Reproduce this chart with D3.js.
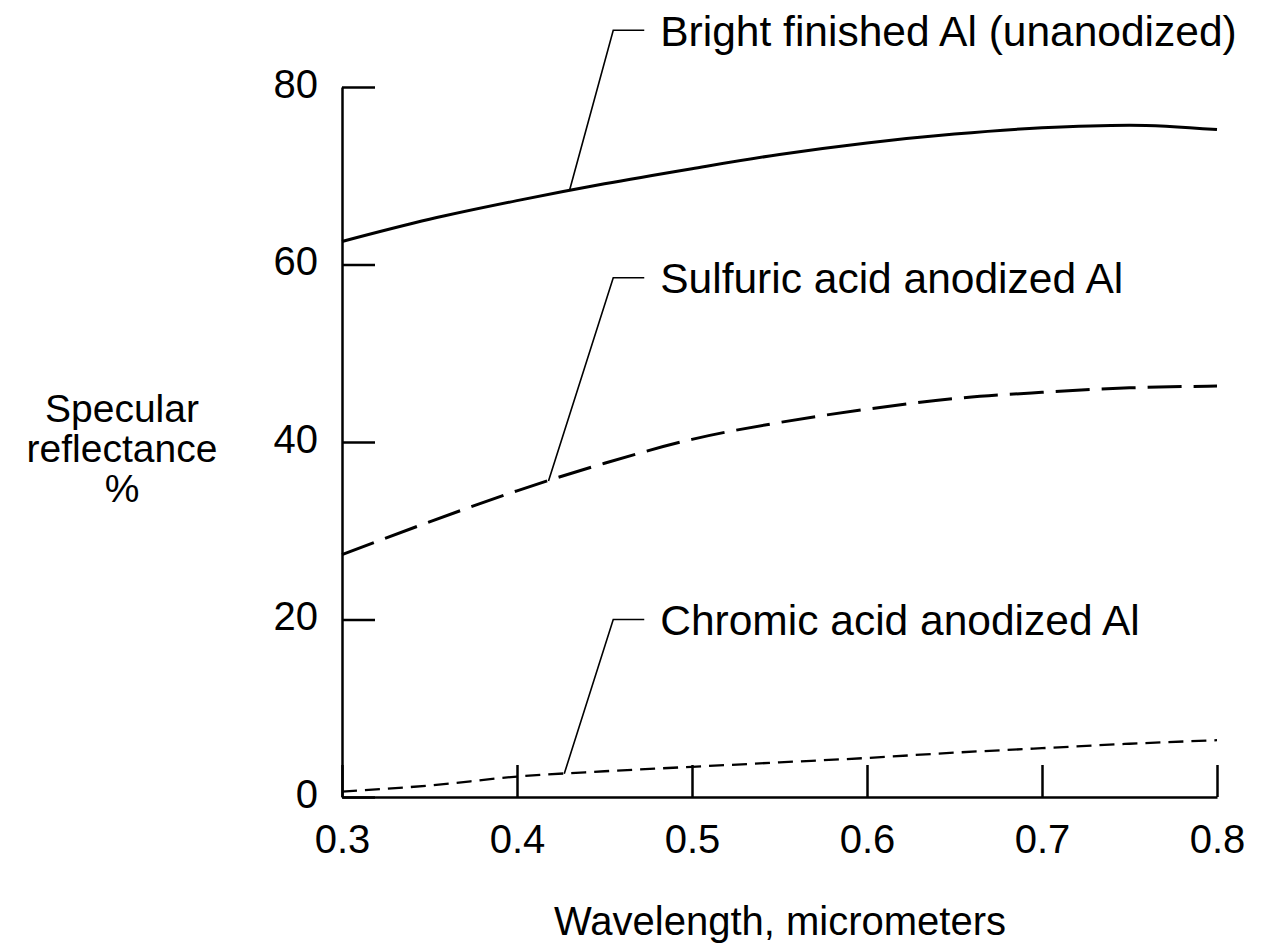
<!DOCTYPE html>
<html>
<head>
<meta charset="utf-8">
<script src="https://d3js.org/d3.v7.min.js"></script>
<style>
	body { margin: 0; background: #fff; }
	svg text { font-family: "Liberation Sans", Arial, Helvetica, sans-serif; fill: #000; }
</style>
</head>
<body>
<script>
	var wavelengths = [0.3, 0.35, 0.4, 0.45, 0.5, 0.55, 0.6, 0.65, 0.7, 0.75, 0.8];
	var brightAl   = [62.6, 65.1, 67.2, 69.1, 70.8, 72.4, 73.7, 74.7, 75.4, 75.7, 75.2];
	var sulfuricAl = [27.3, 31.0, 34.5, 37.6, 40.3, 42.2, 43.7, 44.9, 45.6, 46.1, 46.3];
	var chromicAl  = [0.6, 1.3, 2.3, 2.9, 3.4, 3.9, 4.4, 5.0, 5.5, 6.0, 6.4];
	var seriesNames = ["Bright finished Al (unanodized)", "Sulfuric acid anodized Al", "Chromic acid anodized Al"];
	var xTicks = [0.3, 0.4, 0.5, 0.6, 0.7, 0.8];
	var yTicks = [0, 20, 40, 60, 80];
	// leader lines: where they touch the curve, where they bend, label height
	var leaderX = [0.43, 0.418, 0.427];
	var bendX = [0.455, 0.455, 0.455];
	var labelY = [86.4, 58.5, 20.0];

	var width = 1268, height = 951;

	var svg = d3.select("body").append("svg")
		.attr("width", width)
		.attr("height", height);

	var x = d3.scaleLinear().domain([0.3, 0.8]).range([342, 1217]);
	var y = d3.scaleLinear().domain([0, 80]).range([797, 87]);

	var xAxis = d3.axisBottom(x)
		.tickValues(xTicks)
		.tickFormat(d3.format(".1f"))
		.tickSizeInner(-32)
		.tickSizeOuter(0)
		.tickPadding(28);

	var yAxis = d3.axisLeft(y)
		.tickValues(yTicks)
		.tickFormat(d3.format("d"))
		.tickSizeInner(-33)
		.tickSizeOuter(0)
		.tickPadding(24);

	var gx = svg.append("g")
		.attr("transform", "translate(0," + y(0) + ")")
		.call(xAxis);

	var gy = svg.append("g")
		.attr("transform", "translate(" + x(0.3) + ",0)")
		.call(yAxis);

	[gx, gy].forEach(function(g) {
		g.selectAll("path, line").attr("stroke", "#000").attr("stroke-width", 2.5);
		g.selectAll("text").attr("font-size", 40).attr("fill", "#000")
			.attr("font-family", "Liberation Sans, Arial, sans-serif");
	});
	gy.selectAll(".tick text").attr("dy", "0.25em");

	var series = [
		{name: seriesNames[0], values: brightAl, dash: null, w: 3},
		{name: seriesNames[1], values: sulfuricAl, dash: "34,12", w: 3},
		{name: seriesNames[2], values: chromicAl, dash: "15,8", w: 2.3}
	];

	var line = d3.line()
		.x(function(d, i) { return x(wavelengths[i]); })
		.y(function(d) { return y(d); })
		.curve(d3.curveMonotoneX);

	svg.selectAll(".curve")
		.data(series)
		.enter().append("path")
		.attr("class", "curve")
		.attr("fill", "none")
		.attr("stroke", "#000")
		.attr("stroke-width", function(d) { return d.w; })
		.attr("stroke-dasharray", function(d) { return d.dash; })
		.attr("d", function(d) { return line(d.values); });

	// value of a series at wavelength w (linear between read points)
	function valueAt(values, w) {
		var i = d3.bisectLeft(wavelengths, w);
		if (i <= 0) return values[0];
		var t = (w - wavelengths[i - 1]) / (wavelengths[i] - wavelengths[i - 1]);
		return values[i - 1] + t * (values[i] - values[i - 1]);
	}

	series.forEach(function(s, i) {
		var x0 = x(leaderX[i]), y0 = y(valueAt(s.values, leaderX[i]));
		var x1 = x(bendX[i]), y1 = y(labelY[i]);
		svg.append("path")
			.attr("fill", "none")
			.attr("stroke", "#000")
			.attr("stroke-width", 1.6)
			.attr("d", "M" + x0 + "," + y0 + "L" + x1 + "," + y1 + "L" + (x1 + 31) + "," + y1);
		svg.append("text")
			.attr("x", x1 + 47)
			.attr("y", y1)
			.attr("dy", "0.36em")
			.attr("font-size", 42.5)
			.text(s.name);
	});

	svg.append("text")
		.attr("x", 780)
		.attr("y", 935)
		.attr("text-anchor", "middle")
		.attr("font-size", 40)
		.text("Wavelength, micrometers");

	svg.append("text")
		.attr("text-anchor", "middle")
		.attr("font-size", 39)
		.selectAll("tspan")
		.data(["Specular", "reflectance", "%"])
		.enter().append("tspan")
		.attr("x", 122)
		.attr("y", function(d, i) { return 422 + i * 40; })
		.text(function(d) { return d; });
</script>
</body>
</html>
